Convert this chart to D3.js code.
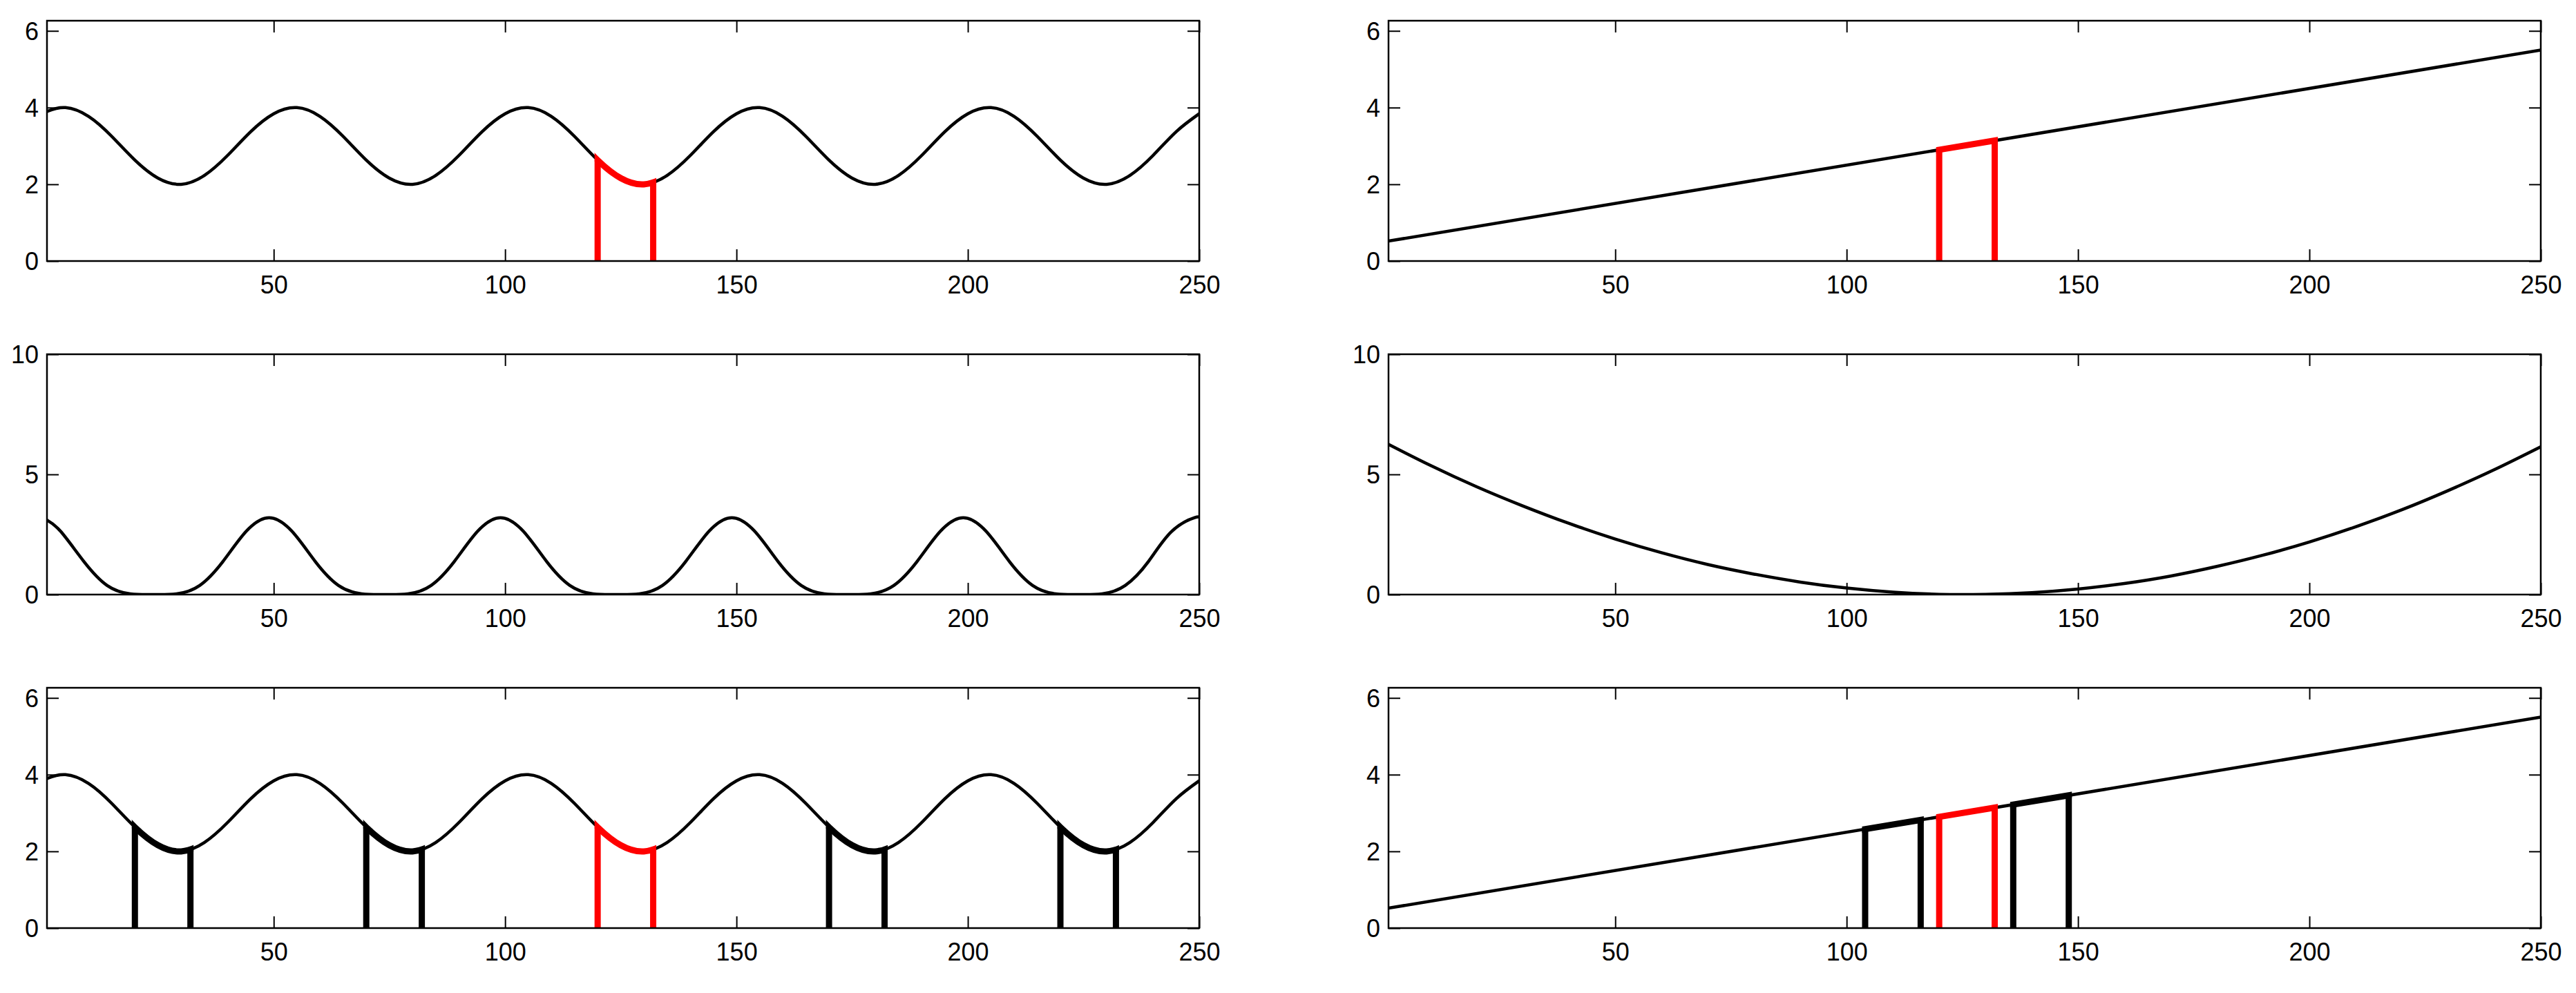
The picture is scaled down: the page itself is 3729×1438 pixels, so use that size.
<!DOCTYPE html>
<html>
<head>
<meta charset="utf-8">
<script src="https://cdn.jsdelivr.net/npm/d3@7"></script>
<style>
  html, body { margin: 0; padding: 0; background: #fff; }
  svg { display: block; }
  text { font-family: "Liberation Sans", Arial, Helvetica, sans-serif; }
</style>
</head>
<body>
<script>
// ---------------- data ----------------
const xTicks = [50, 100, 150, 200, 250];
const ySixTicks = [0, 2, 4, 6];
const yTenTicks = [0, 5, 10];

// periodic curve (rows 1 & 3, left)
const waveX = [1, 5, 10, 15, 20, 25, 30, 35, 40, 45, 50, 55, 60, 65, 70, 75, 80, 85, 90, 95, 100,
  105, 110, 115, 120, 125, 130, 135, 140, 145, 150, 155, 160, 165, 170, 175, 180, 185, 190, 195, 200,
  205, 210, 215, 220, 225, 230, 235, 240, 245, 250];
const waveY = [3.90, 4.00, 3.77, 3.25, 2.63, 2.16, 2.00, 2.23, 2.75, 3.37, 3.84,
  4.00, 3.77, 3.25, 2.63, 2.16, 2.00, 2.23, 2.75, 3.37, 3.84,
  4.00, 3.77, 3.25, 2.63, 2.16, 2.00, 2.23, 2.75, 3.37, 3.84,
  4.00, 3.77, 3.25, 2.63, 2.16, 2.00, 2.23, 2.75, 3.37, 3.84,
  4.00, 3.77, 3.25, 2.63, 2.16, 2.00, 2.23, 2.75, 3.37, 3.84];

// straight line (rows 1 & 3, right)
const rampX = [1, 250];
const rampY = [0.52, 5.50];

// peaked curve (row 2, left)
const peakX = [1, 4, 9, 14, 19, 24, 29, 34, 39, 44, 49, 54, 59, 64, 69, 74, 79, 84, 89, 94, 99,
  104, 109, 114, 119, 124, 129, 134, 139, 144, 149, 154, 159, 164, 169, 174, 179, 184, 189, 194, 199,
  204, 209, 214, 219, 224, 229, 234, 239, 244, 249, 250];
const peakY = [3.10, 2.62, 1.37, 0.38, 0.03, 0.00, 0.03, 0.38, 1.37, 2.62, 3.20,
  2.62, 1.37, 0.38, 0.03, 0.00, 0.03, 0.38, 1.37, 2.62, 3.20,
  2.62, 1.37, 0.38, 0.03, 0.00, 0.03, 0.38, 1.37, 2.62, 3.20,
  2.62, 1.37, 0.38, 0.03, 0.00, 0.03, 0.38, 1.37, 2.62, 3.20,
  2.62, 1.37, 0.38, 0.03, 0.00, 0.03, 0.38, 1.37, 2.62, 3.20, 3.17];

// bowl curve (row 2, right)
const bowlX = [1, 10, 20, 30, 40, 50, 60, 70, 80, 90, 100, 110, 120, 130, 140, 150, 160, 170, 180,
  190, 200, 210, 220, 230, 240, 250];
const bowlY = [6.25, 5.38, 4.49, 3.69, 2.96, 2.31, 1.74, 1.25, 0.85, 0.52, 0.27, 0.10, 0.01, 0.01,
  0.08, 0.23, 0.46, 0.77, 1.17, 1.64, 2.19, 2.82, 3.53, 4.33, 5.20, 6.15];

// highlighted windows
const winTopStart = [120];
const winTopEnd = [132];
const winTopColor = ["red"];

const waveWinStart = [20, 70, 120, 170, 220];
const waveWinEnd = [32, 82, 132, 182, 232];
const waveWinStartY = [2.63, 2.63, 2.63, 2.63, 2.63];
const waveWinEndY = [2.05, 2.05, 2.05, 2.05, 2.05];
const waveWinColor = ["black", "black", "red", "black", "black"];

const rampWinStart = [104, 120, 136];
const rampWinEnd = [116, 132, 148];
const rampWinStartY = [2.58, 2.90, 3.22];
const rampWinEndY = [2.82, 3.14, 3.46];
const rampWinColor = ["black", "red", "black"];

// ---------------- layout ----------------
const W = 3729, H = 1438;
const colLeft = [68, 2010];
const colWidth = 1668;
const rowTop = [30, 513, 996];
const rowHeight = 348;

const svg = d3.select("body").append("svg")
  .attr("width", W).attr("height", H)
  .attr("viewBox", `0 0 ${W} ${H}`);

let clipId = 0;

function panel(col, row, yMax, yTicks, xs, ys, windows) {
  const x0 = colLeft[col], y0 = rowTop[row];
  const g = svg.append("g").attr("transform", `translate(${x0},${y0})`);
  const x = d3.scaleLinear().domain([1, 250]).range([0, colWidth]);
  const y = d3.scaleLinear().domain([0, yMax]).range([rowHeight, 0]);

  const cid = "clip" + (clipId++);
  g.append("clipPath").attr("id", cid).append("rect")
    .attr("x", 0).attr("y", 0).attr("width", colWidth).attr("height", rowHeight);

  const pts = xs.map((v, i) => [v, ys[i]]);
  const line = d3.line().x(d => x(d[0])).y(d => y(d[1]))
    .curve(xs.length > 2 ? d3.curveNatural : d3.curveLinear);

  const plot = g.append("g").attr("clip-path", `url(#${cid})`);
  plot.append("path").datum(pts)
    .attr("d", line).attr("fill", "none")
    .attr("stroke", "black").attr("stroke-width", 4.5)
    .attr("stroke-linejoin", "round");

  // windows
  if (windows) {
    const thick = 9;
    windows.start.forEach((s, i) => {
      const e = windows.end[i];
      const col = windows.color[i];
      const wid = cid + "w" + i;
      g.append("clipPath").attr("id", wid).append("rect")
        .attr("x", x(s) - thick / 2).attr("y", -20)
        .attr("width", x(e) - x(s) + thick).attr("height", rowHeight + 20);
      const wg = g.append("g");
      wg.append("g").attr("clip-path", `url(#${wid})`)
        .append("path").datum(pts)
        .attr("d", line).attr("fill", "none")
        .attr("stroke", col).attr("stroke-width", thick);
      wg.append("line")
        .attr("x1", x(s)).attr("x2", x(s))
        .attr("y1", y(0)).attr("y2", y(windows.startY[i]))
        .attr("stroke", col).attr("stroke-width", thick);
      wg.append("line")
        .attr("x1", x(e)).attr("x2", x(e))
        .attr("y1", y(0)).attr("y2", y(windows.endY[i]))
        .attr("stroke", col).attr("stroke-width", thick);
    });
  }

  const tickLen = 17;
  // axes with inward ticks
  const axB = g.append("g").attr("transform", `translate(0,${rowHeight})`)
    .call(d3.axisBottom(x).tickValues(xTicks).tickSize(-tickLen).tickPadding(tickLen + 10).tickFormat(d3.format("d")));
  const axT = g.append("g")
    .call(d3.axisTop(x).tickValues(xTicks).tickSize(-tickLen).tickFormat(""));
  const axL = g.append("g")
    .call(d3.axisLeft(y).tickValues(yTicks).tickSize(-tickLen).tickPadding(tickLen + 10).tickFormat(d3.format("d")));
  const axR = g.append("g").attr("transform", `translate(${colWidth},0)`)
    .call(d3.axisRight(y).tickValues(yTicks).tickSize(-tickLen).tickFormat(""));

  [axB, axT, axL, axR].forEach(a => {
    a.select(".domain").remove();
    a.selectAll(".tick line").attr("stroke", "black").attr("stroke-width", 2);
    a.selectAll(".tick text").attr("fill", "black")
      .style("font-size", "36px")
      .style("font-family", '"Liberation Sans", Arial, Helvetica, sans-serif');
  });
  axB.selectAll(".tick text").attr("dy", "0.71em").attr("y", 21);
  axL.selectAll(".tick text").attr("x", -12).attr("dy", "0.35em");

  g.append("rect").attr("x", 0).attr("y", 0)
    .attr("width", colWidth).attr("height", rowHeight)
    .attr("fill", "none").attr("stroke", "black").attr("stroke-width", 2.5);
}

panel(0, 0, 6.265, ySixTicks, waveX, waveY,
  { start: winTopStart, end: winTopEnd, startY: [2.63], endY: [2.05], color: winTopColor });
panel(1, 0, 6.265, ySixTicks, rampX, rampY,
  { start: winTopStart, end: winTopEnd, startY: [2.90], endY: [3.14], color: winTopColor });
panel(0, 1, 10, yTenTicks, peakX, peakY, null);
panel(1, 1, 10, yTenTicks, bowlX, bowlY, null);
panel(0, 2, 6.265, ySixTicks, waveX, waveY,
  { start: waveWinStart, end: waveWinEnd, startY: waveWinStartY, endY: waveWinEndY, color: waveWinColor });
panel(1, 2, 6.265, ySixTicks, rampX, rampY,
  { start: rampWinStart, end: rampWinEnd, startY: rampWinStartY, endY: rampWinEndY, color: rampWinColor });
</script>
</body>
</html>
